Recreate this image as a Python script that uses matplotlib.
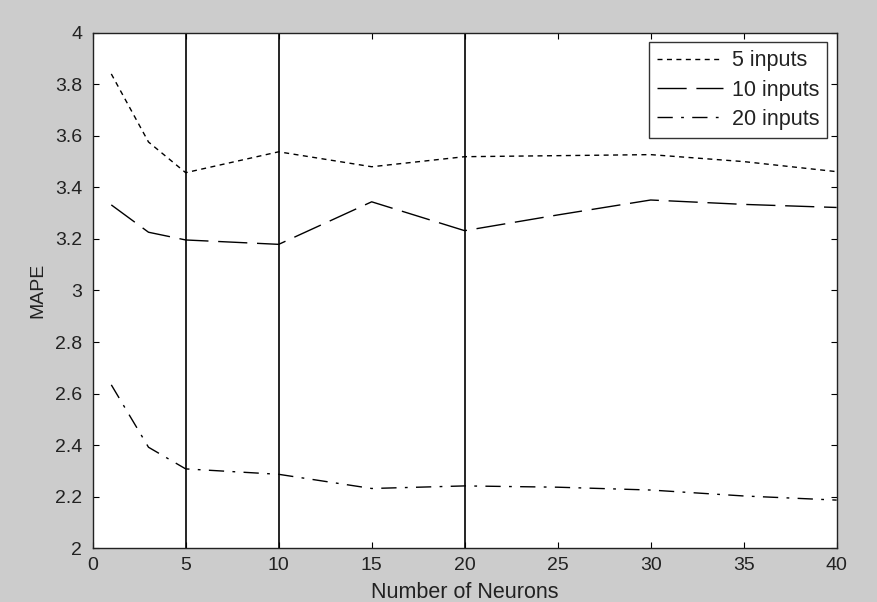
import numpy as np
import matplotlib
matplotlib.use("Agg")
import matplotlib.pyplot as plt

# neurons in the hidden layer
neurons = [1, 3, 5, 10, 15, 20, 25, 30, 35, 40]

# MAPE
mape_5 = [3.84, 3.576, 3.457, 3.538, 3.480, 3.519, 3.523, 3.527, 3.500, 3.461]
mape_10 = [3.332, 3.226, 3.196, 3.179, 3.344, 3.232, 3.293, 3.351, 3.334, 3.322]
mape_20 = [2.634, 2.392, 2.308, 2.287, 2.232, 2.242, 2.237, 2.226, 2.203, 2.187]

vlines = [5, 10, 20]
xticks = np.arange(0, 41, 5)
yticks = [2, 2.2, 2.4, 2.6, 2.8, 3, 3.2, 3.4, 3.6, 3.8, 4]
ytick_labels = ["2", "2.2", "2.4", "2.6", "2.8", "3", "3.2", "3.4", "3.6", "3.8", "4"]

plt.rcParams['font.family'] = ['Liberation Sans', 'DejaVu Sans']
txt = "#222222"

fig = plt.figure(figsize=(8.77, 6.02), dpi=100, facecolor="#cccccc")
ax = fig.add_axes([0.1057, 0.0892, 0.8483, 0.8565])
ax.set_facecolor("white")

ax.plot(neurons, mape_5, color="black", lw=1.0, dashes=(3.6, 3.2), label="5 inputs")
ax.plot(neurons, mape_10, color="black", lw=1.0, dashes=(21, 7), label="10 inputs")
ax.plot(neurons, mape_20, color="black", lw=1.0, dashes=(11, 6, 2, 6), label="20 inputs")

for v in vlines:
    ax.axvline(v, color="black", lw=1.2)

ax.set_xlim(0, 40)
ax.set_ylim(2, 4)
ax.set_xticks(xticks)
ax.set_yticks(yticks)
ax.set_yticklabels(ytick_labels)
ax.tick_params(direction="in", length=4, width=0.8, top=True, right=True,
               labelsize=14, labelcolor=txt)
ax.tick_params(axis="x", pad=6)
ax.tick_params(axis="y", pad=7.5)
for s in ax.spines.values():
    s.set_linewidth(1.0)
    s.set_color(txt)

ax.set_xlabel("Number of Neurons", fontsize=15.5, color=txt, labelpad=6)
ax.set_ylabel("MAPE", fontsize=14, color=txt, labelpad=6.5)

leg = ax.legend(loc="upper right", fontsize=15.5, frameon=True, fancybox=False,
                edgecolor="black", handlelength=3.07, handletextpad=0.4,
                borderaxespad=0.45, borderpad=0.36, labelspacing=0.39)
leg.get_frame().set_linewidth(1.0)
for t in leg.get_texts():
    t.set_color(txt)

fig.savefig("out.png", dpi=100, facecolor=fig.get_facecolor())
